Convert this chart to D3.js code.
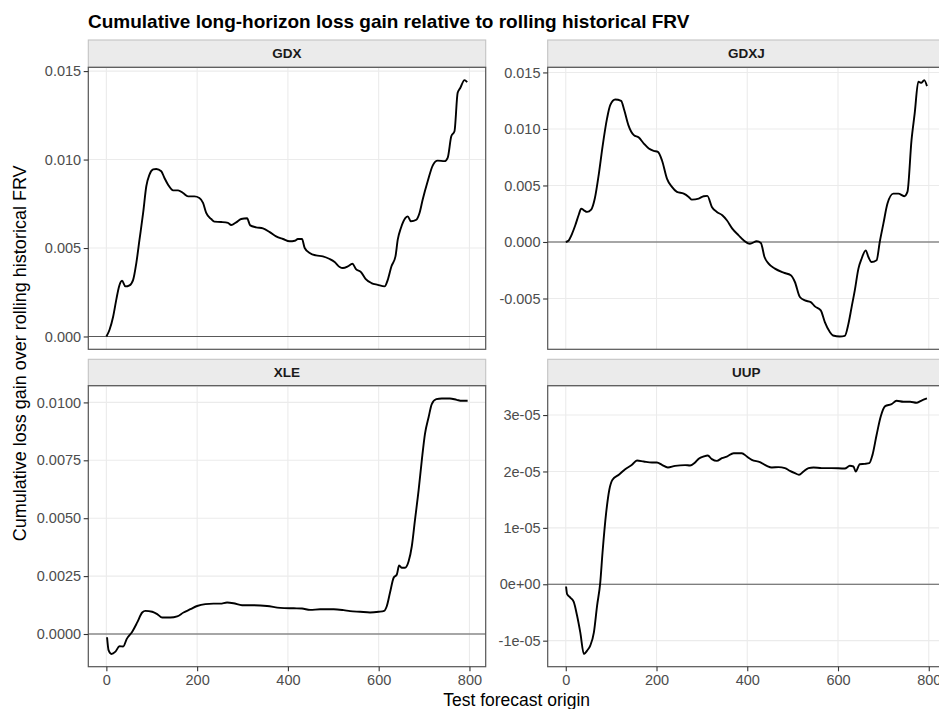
<!DOCTYPE html>
<html><head><meta charset="utf-8">
<script src="https://cdn.jsdelivr.net/npm/d3@7"></script>
<style>body{margin:0;background:#fff}svg{display:block;font-family:"Liberation Sans",Arial,sans-serif}</style>
</head><body><svg id="c" width="939" height="709"></svg>
<script>
const titleText = "Cumulative long-horizon loss gain relative to rolling historical FRV";
const xTitle = "Test forecast origin";
const yTitle = "Cumulative loss gain over rolling historical FRV";
const panelNames = ["GDX","GDXJ","XLE","UUP"];
const xTicks = [0,200,400,600,800];
const xTickLabels = ["0","200","400","600","800"];

const gdxX = [0,7,15,22,28,34.5,42,51,59,66,73,81,88,95,103,110,121,128,136,147,158,169,180,194,205,213,220,231,238,253,268,275,286,297,310,317,330,345,360,374,389,404,415,422,431,437,448,462,477,492,503,514,521,532,542,550,561,571,584,598,613,620,628,637,642,649,659,664,671,683,690,697,708,719,730,745,752,760,767,774,780,789,795];
const gdxY = [0,0.00038,0.00113,0.0021,0.00283,0.00315,0.00283,0.00289,0.0032,0.00415,0.00547,0.00698,0.00849,0.00915,0.00944,0.00947,0.00934,0.00896,0.00858,0.00826,0.00826,0.00811,0.00792,0.00792,0.00783,0.00755,0.00698,0.00664,0.00649,0.00647,0.00642,0.0063,0.00645,0.00664,0.00668,0.00628,0.00617,0.00611,0.0059,0.00566,0.00551,0.00538,0.00541,0.00551,0.00551,0.005,0.00472,0.00458,0.00453,0.00438,0.00421,0.00393,0.00387,0.00396,0.00411,0.00381,0.00364,0.00326,0.00302,0.00292,0.00283,0.0032,0.00396,0.00453,0.00547,0.00613,0.0067,0.00679,0.00651,0.0066,0.00698,0.00774,0.00877,0.00966,0.00994,0.00991,0.0101,0.01132,0.0116,0.01377,0.01406,0.01449,0.01438];

const gdxjX = [0,6.6,14,21,29,34,40,47,56,64,73,81,91,98,109,122,129,138,150,161,172,183,194,203,212,223,234,245,260,271,278,293,304,312,322,333,345,355,367,381,392,406,421,430,438,447,461,480,496,505,516,527,540,549,562,571,582,589,604,615,623,630,637,645,652,661,667,674,685,692,700,709,722,733,746,753,762,769,777,784,790,796];
const gdxjY = [0,0.00015,0.00074,0.00148,0.00245,0.00295,0.0028,0.00266,0.00286,0.00384,0.00605,0.00842,0.01093,0.01211,0.01261,0.01249,0.01166,0.01034,0.00945,0.00924,0.00871,0.00827,0.00806,0.00797,0.00723,0.00561,0.00487,0.00443,0.00428,0.00399,0.00375,0.00384,0.00405,0.00408,0.0031,0.00266,0.00236,0.00192,0.00118,0.00059,0.00015,-0.00015,0.00006,-0.00009,-0.00133,-0.00192,-0.00236,-0.00272,-0.00295,-0.00354,-0.00487,-0.00517,-0.00532,-0.0057,-0.00605,-0.00709,-0.00797,-0.00827,-0.00836,-0.0083,-0.00723,-0.00576,-0.00428,-0.00236,-0.00148,-0.00074,-0.00133,-0.00177,-0.00162,0,0.00162,0.0034,0.00428,0.00428,0.00405,0.00443,0.00901,0.01137,0.01417,0.01409,0.01432,0.01379];

const xleX = [1.5,5,11,20,29,37,45,57,68,79,86,101,112,123,141,156,170,185,200,218,236,251,266,280,299,324,354,383,413,431,449,471,501,523,537,559,581,600,612,618,625,633,640,645,651,658,666,673,680,688,695,702,710,717,727,739,757,772,783,796];
const xleY = [-0.00014,-0.00071,-0.00086,-0.00076,-0.00053,-0.00054,-0.00021,0.0001,0.0005,0.00093,0.001,0.00096,0.00086,0.00071,0.00071,0.00076,0.00093,0.00107,0.00121,0.00129,0.00131,0.00131,0.00136,0.00133,0.00124,0.00124,0.00121,0.00113,0.00111,0.0011,0.00104,0.00107,0.00107,0.00103,0.00099,0.00096,0.00093,0.00096,0.001,0.00121,0.00179,0.00243,0.00257,0.00296,0.00286,0.00286,0.00314,0.00379,0.00493,0.00621,0.0075,0.00864,0.00936,0.00993,0.01014,0.01017,0.01017,0.01011,0.01007,0.01007];

const uupX = [0.7,3,10,17.6,25,32,40,47,54,62,69,76,81,89,96,103,117,131,146,157,172,190,201,212,225,241,263,274,285,293,304,313,322,333,344,355,370,388,399,410,428,443,454,469,483,494,505,514,524,535,546,564,586,615,626,634,639,648,659,669,676,685,694,704,718,729,744,759,773,783,796];
const uupY = [-0.04e-5,-0.176e-5,-0.235e-5,-0.312e-5,-0.559e-5,-0.853e-5,-1.235e-5,-1.176e-5,-1.088e-5,-0.853e-5,-0.382e-5,0.029e-5,0.559e-5,1.265e-5,1.676e-5,1.853e-5,1.941e-5,2.041e-5,2.118e-5,2.194e-5,2.176e-5,2.159e-5,2.159e-5,2.118e-5,2.071e-5,2.1e-5,2.112e-5,2.106e-5,2.159e-5,2.224e-5,2.265e-5,2.282e-5,2.218e-5,2.188e-5,2.235e-5,2.265e-5,2.324e-5,2.324e-5,2.265e-5,2.206e-5,2.165e-5,2.1e-5,2.071e-5,2.076e-5,2.059e-5,2.012e-5,1.971e-5,1.941e-5,2e-5,2.059e-5,2.071e-5,2.059e-5,2.059e-5,2.053e-5,2.1e-5,2.088e-5,2e-5,2.129e-5,2.135e-5,2.147e-5,2.294e-5,2.647e-5,2.971e-5,3.159e-5,3.194e-5,3.253e-5,3.235e-5,3.235e-5,3.218e-5,3.253e-5,3.294e-5];

const gdxTicks = [0,0.005,0.010,0.015];
const gdxTickLabels = ["0.000","0.005","0.010","0.015"];
const gdxjTicks = [-0.005,0,0.005,0.010,0.015];
const gdxjTickLabels = ["-0.005","0.000","0.005","0.010","0.015"];
const xleTicks = [0,0.0025,0.005,0.0075,0.01];
const xleTickLabels = ["0.0000","0.0025","0.0050","0.0075","0.0100"];
const uupTicks = [-1e-5,0,1e-5,2e-5,3e-5];
const uupTickLabels = ["-1e-05","0e+00","1e-05","2e-05","3e-05"];

const seriesX = [gdxX,gdxjX,xleX,uupX];
const seriesY = [gdxY,gdxjY,xleY,uupY];
const yTicksAll = [gdxTicks,gdxjTicks,xleTicks,uupTicks];
const yTickLabelsAll = [gdxTickLabels,gdxjTickLabels,xleTickLabels,uupTickLabels];

// layout
const colsL = [{x0:88.3,x1:485.7},{x0:547.7,x1:945}];
const rowsL = [{top:40,strip:67.3,bot:349.3},{top:359.3,strip:385.7,bot:666.7}];
const svg = d3.select("#c");

svg.append("text").attr("x",88).attr("y",28.3).attr("font-weight","bold")
  .attr("font-size",19).attr("fill","#000").text(titleText);

const allX = seriesX.flat();
const xr = d3.extent(allX); const xpad = (xr[1]-xr[0])*0.05;

panelNames.forEach((name,i)=>{
  const c = colsL[i%2], r = rowsL[Math.floor(i/2)];
  const data = seriesX[i].map((x,j)=>({x, y:seriesY[i][j]})).filter(d=>d.y!==undefined);
  const yr = d3.extent(data.map(d=>d.y).concat([0]));
  const ypad = (yr[1]-yr[0])*0.05;
  const x = d3.scaleLinear().domain([xr[0]-xpad,xr[1]+xpad]).range([c.x0,c.x1]);
  const y = d3.scaleLinear().domain([yr[0]-ypad,yr[1]+ypad]).range([r.bot,r.strip]);
  const g = svg.append("g");
  // strip
  g.append("rect").attr("x",c.x0).attr("y",r.top).attr("width",c.x1-c.x0).attr("height",r.strip-r.top)
    .attr("fill","#EBEBEB").attr("stroke","#C4C4C4").attr("stroke-width",1.1);
  g.append("text").attr("x",(c.x0+c.x1)/2).attr("y",(r.top+r.strip)/2+4.8).attr("text-anchor","middle")
    .attr("font-size",13.5).attr("font-weight","bold").attr("fill","#1A1A1A").text(name);
  // grid
  g.append("g").selectAll("line").data(xTicks).join("line")
    .attr("x1",d=>x(d)).attr("x2",d=>x(d)).attr("y1",r.strip).attr("y2",r.bot)
    .attr("stroke","#EBEBEB").attr("stroke-width",1.1);
  g.append("g").selectAll("line").data(yTicksAll[i]).join("line")
    .attr("x1",c.x0).attr("x2",c.x1).attr("y1",d=>y(d)).attr("y2",d=>y(d))
    .attr("stroke","#EBEBEB").attr("stroke-width",1.1);
  // zero line
  g.append("line").attr("x1",c.x0).attr("x2",c.x1).attr("y1",y(0)).attr("y2",y(0))
    .attr("stroke","#595959").attr("stroke-width",1.2);
  // series line
  g.append("path").datum(data).attr("fill","none").attr("stroke","#000").attr("stroke-width",1.9)
    .attr("stroke-linejoin","round")
    .attr("d",d3.line().x(d=>x(d.x)).y(d=>y(d.y)).curve(d3.curveMonotoneX));
  // border
  g.append("rect").attr("x",c.x0).attr("y",r.strip).attr("width",c.x1-c.x0).attr("height",r.bot-r.strip)
    .attr("fill","none").attr("stroke","#555").attr("stroke-width",1.2);
  // y axis
  const ya = d3.axisLeft(y).tickValues(yTicksAll[i]).tickSize(4.6).tickPadding(2.6)
    .tickFormat((d,k)=>yTickLabelsAll[i][k]);
  const yg = g.append("g").attr("transform",`translate(${c.x0},0)`).call(ya);
  yg.select(".domain").remove();
  yg.selectAll(".tick line").attr("stroke","#333").attr("stroke-width",1.1);
  yg.selectAll(".tick text").attr("font-size",14.5).attr("fill","#4D4D4D")
    .attr("font-family","Liberation Sans, Arial, sans-serif");
  // x axis only for bottom row
  if (Math.floor(i/2)===1){
    const xa = d3.axisBottom(x).tickValues(xTicks).tickSize(4.6).tickPadding(3)
      .tickFormat((d,k)=>xTickLabels[k]);
    const xg = g.append("g").attr("transform",`translate(0,${r.bot})`).call(xa);
    xg.select(".domain").remove();
    xg.selectAll(".tick line").attr("stroke","#333").attr("stroke-width",1.1);
    xg.selectAll(".tick text").attr("font-size",14.5).attr("fill","#4D4D4D")
      .attr("font-family","Liberation Sans, Arial, sans-serif");
  }
});

svg.append("text").attr("x",(colsL[0].x0+colsL[1].x1)/2).attr("y",706).attr("text-anchor","middle")
  .attr("font-size",17.5).attr("fill","#000").text(xTitle);
svg.append("text").attr("transform",`translate(26,${(rowsL[0].top+rowsL[1].bot)/2}) rotate(-90)`)
  .attr("text-anchor","middle").attr("font-size",18).attr("fill","#000").text(yTitle);
</script></body></html>
